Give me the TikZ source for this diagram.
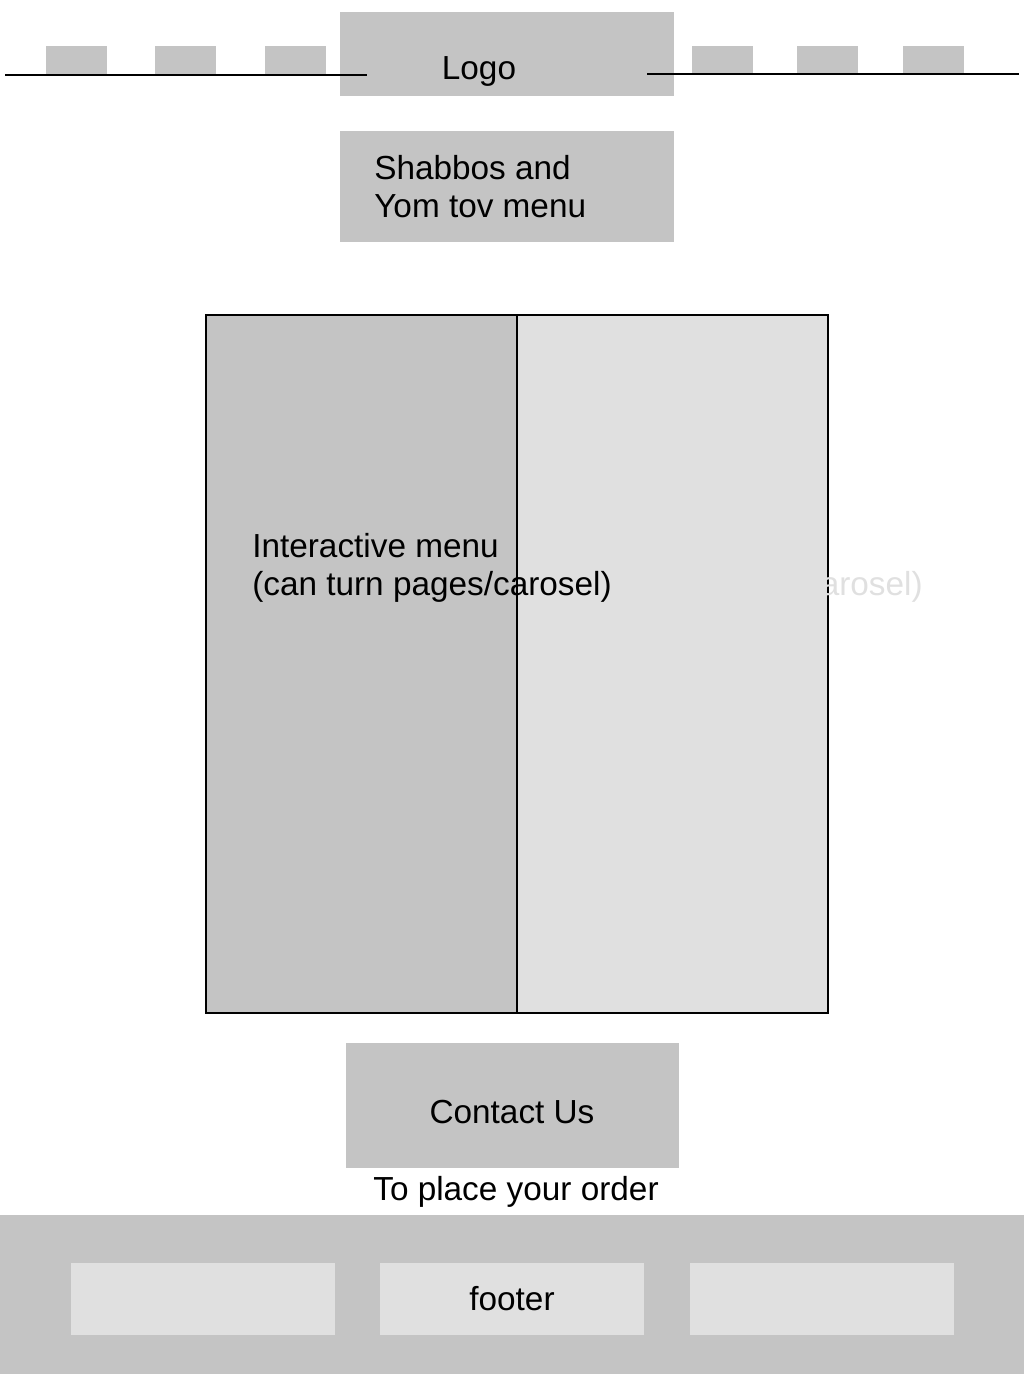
\documentclass[tikz,border=0pt]{standalone}
\usepackage{fontspec}
\setmainfont{Liberation Sans}
\usepackage{tikz}

\definecolor{boxgray}{HTML}{C4C4C4}
\definecolor{panelgray}{HTML}{E0E0E0}

\begin{document}
\begin{tikzpicture}[x=0.75pt, y=-0.75pt,
    every node/.style={inner sep=0pt, font=\fontsize{25}{28.5}\selectfont},
    block/.style={rectangle, fill=boxgray, minimum width=#1},
    tab/.style={rectangle, fill=boxgray, minimum width=45.75pt, minimum height=21.75pt},
    panel/.style={rectangle, draw, line width=0.8pt, minimum width=233.25pt, minimum height=523.5pt},
    footbox/.style={rectangle, fill=panelgray, minimum width=198pt, minimum height=54pt},
    label/.style={align=left, anchor=west}]
    \useasboundingbox (0,0) rectangle (1024,1374);

    % header
    \node at (76.5,60) [tab] (TabA) {};
    \node at (185.5,60) [tab] (TabB) {};
    \node at (295.5,60) [tab] (TabC) {};
    \node at (722.5,60) [tab] (TabD) {};
    \node at (827.5,60) [tab] (TabE) {};
    \node at (933.5,60) [tab] (TabF) {};
    \node at (507,54) [block=250.5pt, minimum height=63pt] (Logo) {};
    \node at (479,71) (LogoText) {Logo};
    \draw[line width=0.8pt] (5,75) -- (367,75);
    \draw[line width=0.8pt] (647,74) -- (1019,74);

    \node at (507,186.5) [block=250.5pt, minimum height=83.25pt] (Shabbos) {};
    \node at (374,187) [label] (ShabbosText) {Shabbos and\\Yom tov menu};

    % interactive menu
    \node at (361.5,664) [panel, fill=boxgray] (PageL) {};
    \node at (672.5,664) [panel, fill=panelgray] (PageR) {};
    \node at (563,568) [label, text=panelgray] (MenuGhost) {Interactive menu\\(can turn pages/carosel)};
    \node at (252,568) [label] (Menu) {Interactive menu\\(can turn pages/carosel)};

    % contact
    \node at (512.5,1105.5) [block=249.75pt, minimum height=93.75pt] (Contact) {};
    \node at (512,1112) (ContactText) {Contact Us};
    \node at (516,1192) (Order) {To place your order};

    % footer
    \node at (512,1294.5) [block=768pt, minimum height=119.25pt] (Footer) {};
    \node at (203,1299) [footbox] (FootL) {};
    \node at (512,1299) [footbox] (FootM) {footer};
    \node at (822,1299) [footbox] (FootR) {};
\end{tikzpicture}
\end{document}
